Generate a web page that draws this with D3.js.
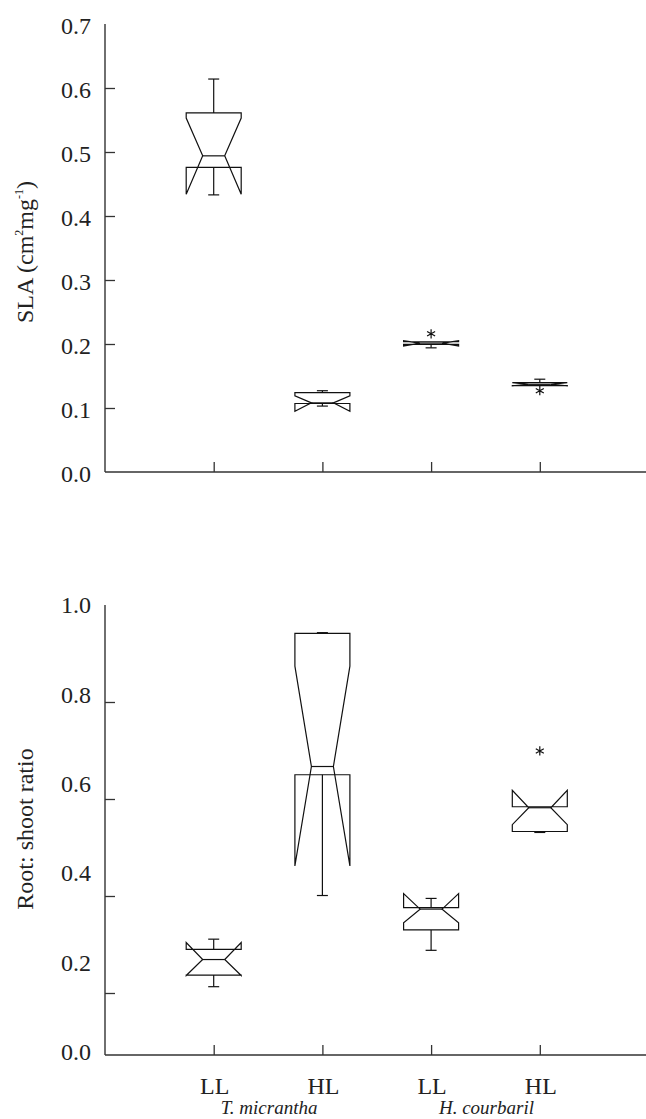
<!DOCTYPE html>
<html>
<head>
<meta charset="utf-8">
<script src="https://cdn.jsdelivr.net/npm/d3@7"></script>
<style>
  body { margin: 0; background: #fff; }
  svg { display: block; font-family: "Liberation Serif", "Times New Roman", serif; }
</style>
</head>
<body>
<div id="grafico"></div>
<script>
// grupos (especie x luz)
const groups = ['Tm-LL', 'Tm-HL', 'Hc-LL', 'Hc-HL'];
const groupLabels = ['LL', 'HL', 'LL', 'HL'];
const species = ['T. micrantha', 'H. courbaril'];

// SLA (cm2 mg-1)
const slaLow = [0.433, 0.103, 0.194, 0.135];
const slaQ1 = [0.476, 0.107, 0.1995, 0.135];
const slaMedian = [0.494, 0.108, 0.2015, 0.137];
const slaQ3 = [0.561, 0.124, 0.2035, 0.1395];
const slaHigh = [0.614, 0.127, 0.2035, 0.145];
const slaNotchLo = [0.434, 0.095, 0.197, 0.1345];
const slaNotchHi = [0.553, 0.119, 0.205, 0.1395];
const slaOutliers = [null, null, 0.216, 0.127];
const slaTicks = [0, 0.1, 0.2, 0.3, 0.4, 0.5, 0.6, 0.7];

// Root: shoot ratio
const rsLow = [0.213, 0.401, 0.288, 0.531];
const rsQ1 = [0.237, 0.650, 0.330, 0.533];
const rsMedian = [0.269, 0.667, 0.373, 0.582];
const rsQ3 = [0.290, 0.9415, 0.376, 0.584];
const rsHigh = [0.311, 0.943, 0.395, 0.584];
const rsNotchLo = [0.236, 0.462, 0.345, 0.547];
const rsNotchHi = [0.304, 0.874, 0.405, 0.618];
const rsOutliers = [null, null, null, 0.699];
const rsTickMarks = [0.2, 0.4, 0.6, 0.8];
const rsTickLabels = [0, 0.2, 0.4, 0.6, 0.8, 1.0];

const width = 646, height = 1119;
const axisX = 105, axisRight = 646;
const halfBox = 27.5, capHalf = 5.5;

const svg = d3.select('#grafico').append('svg')
  .attr('width', width)
  .attr('height', height);

const x = d3.scalePoint()
  .domain(groups)
  .range([axisX, 648.5])
  .padding(1);

function boxPath(cx, y, i, b) {
  const L = cx - halfBox, R = cx + halfBox, n = halfBox * 0.6;
  const q3 = y(b.q3[i]), q1 = y(b.q1[i]), med = y(b.med[i]);
  const nh = y(b.nhi[i]), nl = y(b.nlo[i]);
  return `M${L},${q3}L${R},${q3}L${R},${nh}L${R - n},${med}L${R},${nl}L${R},${q1}` +
    `L${L},${q1}L${L},${nl}L${L + n},${med}L${L},${nh}Z`;
}

function drawBoxes(g, y, b) {
  groups.forEach((grp, i) => {
    const cx = x(grp);
    const bx = g.append('g')
      .attr('fill', 'none')
      .attr('stroke', '#111')
      .attr('stroke-width', 1.2);

    bx.append('path').attr('d', boxPath(cx, y, i, b));

    // mediana
    bx.append('line')
      .attr('x1', cx - halfBox * 0.4).attr('x2', cx + halfBox * 0.4)
      .attr('y1', y(b.med[i])).attr('y2', y(b.med[i]));

    // bigotes
    [[b.q3[i], b.high[i]], [b.q1[i], b.low[i]]].forEach(([from, to]) => {
      if (Math.abs(y(from) - y(to)) < 0.5) return;
      bx.append('line')
        .attr('x1', cx).attr('x2', cx)
        .attr('y1', y(from)).attr('y2', y(to));
      bx.append('line')
        .attr('x1', cx - capHalf).attr('x2', cx + capHalf)
        .attr('y1', y(to)).attr('y2', y(to));
    });

    if (b.out[i] != null) {
      g.append('path')
        .attr('d', d3.symbol(d3.symbolAsterisk, 60)())
        .attr('transform', `translate(${cx},${y(b.out[i])})`)
        .attr('fill', 'none')
        .attr('stroke', '#111')
        .attr('stroke-width', 1.2);
    }
  });
}

function drawFrame(g, yTop, yBase, y, tickMarks) {
  g.append('line')
    .attr('x1', axisX).attr('x2', axisX)
    .attr('y1', yTop).attr('y2', yBase)
    .attr('stroke', '#333').attr('stroke-width', 1.4);
  g.append('line')
    .attr('x1', axisX).attr('x2', axisRight)
    .attr('y1', yBase).attr('y2', yBase)
    .attr('stroke', '#333').attr('stroke-width', 1.4);

  const ya = g.append('g')
    .attr('transform', `translate(${axisX},0)`)
    .call(d3.axisRight(y).tickValues(tickMarks).tickSize(10).tickFormat(''));
  ya.select('.domain').remove();
  ya.selectAll('line').attr('stroke', '#333').attr('stroke-width', 1.3);

  const xa = g.append('g')
    .attr('transform', `translate(0,${yBase})`)
    .call(d3.axisTop(x).tickSize(10).tickFormat(''));
  xa.select('.domain').remove();
  xa.selectAll('line').attr('stroke', '#333').attr('stroke-width', 1.3);
}

function drawTickLabels(g, scale, values, shift) {
  const la = g.append('g')
    .attr('transform', `translate(${axisX},${shift})`)
    .call(d3.axisLeft(scale).tickValues(values).tickSize(0).tickPadding(14).tickFormat(d3.format('.1f')));
  la.select('.domain').remove();
  la.selectAll('text')
    .attr('font-family', '"Liberation Serif", serif')
    .attr('font-size', 24)
    .attr('fill', '#222');
}

// ---- panel superior: SLA ----
const ySla = d3.scaleLinear().domain([0, 0.7]).range([472, 24]);
const topPanel = svg.append('g');
drawFrame(topPanel, ySla(0.7), ySla(0), ySla, slaTicks.slice(1, -1));
drawTickLabels(topPanel, ySla, slaTicks, 2);
drawBoxes(topPanel, ySla, {
  low: slaLow, q1: slaQ1, med: slaMedian, q3: slaQ3, high: slaHigh,
  nlo: slaNotchLo, nhi: slaNotchHi, out: slaOutliers
});

const slaTitle = topPanel.append('text')
  .attr('transform', `translate(33,252) rotate(-90)`)
  .attr('text-anchor', 'middle')
  .attr('font-size', 24)
  .attr('fill', '#222');
slaTitle.append('tspan').text('SLA (cm');
slaTitle.append('tspan').attr('font-size', 12).attr('dy', -10).text('2');
slaTitle.append('tspan').attr('dy', 10).text('mg');
slaTitle.append('tspan').attr('font-size', 12).attr('dy', -10).text('-1');
slaTitle.append('tspan').attr('dy', 10).text(')');

// ---- panel inferior: Root: shoot ratio ----
// las marcas y las etiquetas del original no coinciden: se dibujan con dos escalas
const yRs = d3.scaleLinear().domain([0, 1]).range([1090, 605]);
const yRsLabels = d3.scaleLinear().domain([0, 1]).range([1052, 605]);
const bottomPanel = svg.append('g');
drawFrame(bottomPanel, yRs(1), 1055, yRs, rsTickMarks);
drawTickLabels(bottomPanel, yRsLabels, rsTickLabels, 0);
drawBoxes(bottomPanel, yRs, {
  low: rsLow, q1: rsQ1, med: rsMedian, q3: rsQ3, high: rsHigh,
  nlo: rsNotchLo, nhi: rsNotchHi, out: rsOutliers
});

bottomPanel.append('text')
  .attr('transform', `translate(33,829) rotate(-90)`)
  .attr('text-anchor', 'middle')
  .attr('font-size', 24)
  .attr('fill', '#222')
  .text('Root: shoot ratio');

bottomPanel.selectAll('.glabel')
  .data(groups)
  .join('text')
  .attr('class', 'glabel')
  .attr('x', d => x(d) + 1)
  .attr('y', 1094)
  .attr('text-anchor', 'middle')
  .attr('font-size', 24)
  .attr('fill', '#222')
  .text((d, i) => groupLabels[i]);

bottomPanel.selectAll('.species')
  .data(species)
  .join('text')
  .attr('class', 'species')
  .attr('x', (d, i) => (x(groups[i * 2]) + x(groups[i * 2 + 1])) / 2 + 1)
  .attr('y', 1114)
  .attr('text-anchor', 'middle')
  .attr('font-size', 19)
  .attr('font-style', 'italic')
  .attr('fill', '#222')
  .text(d => d);
</script>
</body>
</html>
